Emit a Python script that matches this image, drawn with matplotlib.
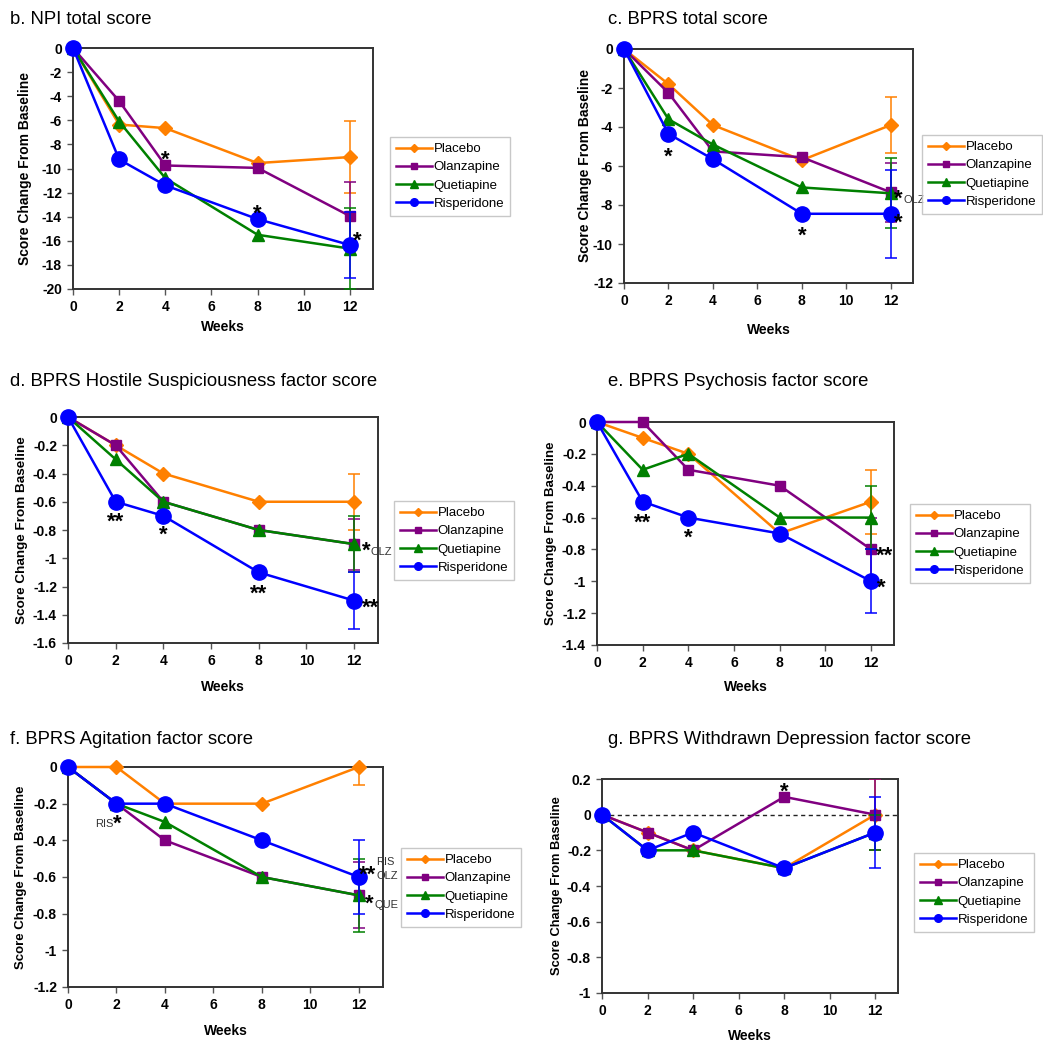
import numpy as np
import matplotlib
matplotlib.use("Agg")
import matplotlib.pyplot as plt
from matplotlib.lines import Line2D

plt.rcParams['font.family'] = ['Liberation Sans', 'DejaVu Sans']
plt.rcParams['axes.unicode_minus'] = False

W, H = 1043, 1050

weeks = [0, 2, 4, 8, 12]
drugs = ['Placebo', 'Olanzapine', 'Quetiapine', 'Risperidone']
colors = ['#FF8000', '#800080', '#008000', '#0000FF']
markers = ['D', 's', '^', 'o']
msizes = [7.5, 7.5, 8.5, 11]
legend_ms = [4.5, 5, 5.5, 5.5]

# b. NPI total score
npi_pla = [0, -6.35, -6.65, -9.55, -9.05]
npi_olz = [0, -4.4, -9.75, -9.95, -13.95]
npi_que = [0, -6.1, -10.8, -15.5, -16.65]
npi_ris = [0, -9.25, -11.4, -14.2, -16.35]
npi_err = [3.0, 2.85, 3.35, 2.7]

# c. BPRS total score
bprs_pla = [0, -1.8, -3.9, -5.7, -3.9]
bprs_olz = [0, -2.25, -5.25, -5.55, -7.35]
bprs_que = [0, -3.6, -4.9, -7.1, -7.4]
bprs_ris = [0, -4.35, -5.65, -8.45, -8.45]
bprs_err = [1.45, 1.5, 1.8, 2.25]

# d. hostile suspiciousness
hos_pla = [0, -0.2, -0.4, -0.6, -0.6]
hos_olz = [0, -0.2, -0.6, -0.8, -0.9]
hos_que = [0, -0.3, -0.6, -0.8, -0.9]
hos_ris = [0, -0.6, -0.7, -1.1, -1.3]
hos_err = [0.2, 0.18, 0.2, 0.2]

# e. psychosis
psy_pla = [0, -0.1, -0.2, -0.7, -0.5]
psy_olz = [0, 0, -0.3, -0.4, -0.8]
psy_que = [0, -0.3, -0.2, -0.6, -0.6]
psy_ris = [0, -0.5, -0.6, -0.7, -1.0]
psy_err = [0.2, 0.2, 0.2, 0.2]

# f. agitation
agi_pla = [0, 0, -0.2, -0.2, 0]
agi_olz = [0, -0.2, -0.4, -0.6, -0.7]
agi_que = [0, -0.2, -0.3, -0.6, -0.7]
agi_ris = [0, -0.2, -0.2, -0.4, -0.6]
agi_err = [0.1, 0.18, 0.2, 0.2]

# g. withdrawn depression
dep_pla = [0, -0.1, -0.2, -0.3, 0]
dep_olz = [0, -0.1, -0.2, 0.1, 0]
dep_que = [0, -0.2, -0.2, -0.3, -0.1]
dep_ris = [0, -0.2, -0.1, -0.3, -0.1]
dep_err = [0.2, 0.2, 0.1, 0.2]

titles = ['b. NPI total score', 'c. BPRS total score',
          'd. BPRS Hostile Suspiciousness factor score', 'e. BPRS Psychosis factor score',
          'f. BPRS Agitation factor score', 'g. BPRS Withdrawn Depression factor score']

# annotations: (series index, point index, text, dx px, dy px, size)
ann_b = [(1, 2, '*', 0, 12, 16), (3, 3, '*', 0, 12, 16), (3, 4, '*', 7, 11, 16)]
ann_c = [(3, 1, '*', 0, -16, 16), (3, 3, '*', 0, -15, 16), (1, 4, '*', 8, 0, 16),
         (1, 4, 'OLZ', 23, -8, 8), (3, 4, '*', 8, -2, 16)]
ann_d = [(3, 1, '**', 0, -13, 16), (3, 2, '*', 0, -12, 16), (3, 3, '**', 0, -15, 16),
         (1, 4, '*', 12, 0, 16), (1, 4, 'OLZ', 27, -8, 8), (3, 4, '**', 16, 0, 16)]
ann_e = [(3, 1, '**', 0, -14, 16), (3, 2, '*', 0, -14, 16), (1, 4, '**', 13, 0, 16),
         (3, 4, '*', 10, 0, 16)]
ann_f = [(3, 1, '*', 1, -13, 16), (3, 1, 'RIS', -12, -20, 8), (3, 4, '**', 9, 9, 16),
         (3, 4, 'RIS', 27, 15, 8), (3, 4, 'OLZ', 28, 1, 8), (2, 4, '*', 11, -2, 16),
         (2, 4, 'QUE', 28, -10, 8)]
ann_g = [(1, 3, '*', 0, 12, 16)]

panels = [
    dict(series=[npi_pla, npi_olz, npi_que, npi_ris], err=npi_err, ylim=(-20, 0), step=2,
         rect=(73, 48, 373, 289), title=(10, 20), leg=(390, 137), ylx=25, xly=327, yls=10, ann=ann_b),
    dict(series=[bprs_pla, bprs_olz, bprs_que, bprs_ris], err=bprs_err, ylim=(-12, 0), step=2,
         rect=(624, 49, 913, 283), title=(608, 20), leg=(922, 135), ylx=585, xly=330, yls=10, ann=ann_c),
    dict(series=[hos_pla, hos_olz, hos_que, hos_ris], err=hos_err, ylim=(-1.6, 0), step=0.2,
         rect=(68, 417, 378, 643), title=(10, 382), leg=(394, 501), ylx=22, xly=687, yls=9.7, ann=ann_d),
    dict(series=[psy_pla, psy_olz, psy_que, psy_ris], err=psy_err, ylim=(-1.4, 0), step=0.2,
         rect=(597, 422, 894, 645), title=(608, 382), leg=(910, 504), ylx=551, xly=687, yls=9.5, ann=ann_e),
    dict(series=[agi_pla, agi_olz, agi_que, agi_ris], err=agi_err, ylim=(-1.2, 0), step=0.2,
         rect=(68, 767, 383, 987), title=(10, 740), leg=(401, 848), ylx=21, xly=1031, yls=9.5, ann=ann_f),
    dict(series=[dep_pla, dep_olz, dep_que, dep_ris], err=dep_err, ylim=(-1, 0.2), step=0.2,
         rect=(602, 779, 898, 993), title=(608, 740), leg=(914, 853), ylx=557, xly=1036, yls=9.3, ann=ann_g,
         zero=True),
]

fig = plt.figure(figsize=(W / 100, H / 100), dpi=100)

for i, p in enumerate(panels):
    l, t, r, b = p['rect']
    ax = fig.add_axes([l / W, 1 - b / H, (r - l) / W, (b - t) / H])
    ax.set_xlim(0, 13)
    ax.set_ylim(*p['ylim'])
    if p.get('zero'):
        ax.axhline(0, color='#222222', lw=1, ls=(0, (3, 2.5)), zorder=1)
    for k in range(4):
        ys = p['series'][k]
        ax.plot(weeks, ys, color=colors[k], marker=markers[k], ms=msizes[k],
                mec=colors[k], lw=1.8, clip_on=False, zorder=3 + k)
        ax.errorbar(weeks[-1], ys[-1], yerr=p['err'][k], fmt='none', ecolor=colors[k],
                    elinewidth=1.1, capsize=4, capthick=1.1, zorder=3 + k)
    yt = np.arange(p['ylim'][0], p['ylim'][1] + p['step'] / 2, p['step'])
    ax.set_yticks(yt)
    ax.set_yticklabels(['%g' % (round(v, 2) + 0.0) for v in yt])
    ax.set_xticks(range(0, 13, 2))
    ax.tick_params(direction='out', length=4, width=1, labelsize=10, color='#555555', pad=4)
    for lab in ax.get_xticklabels() + ax.get_yticklabels():
        lab.set_fontweight('bold')
    for s in ax.spines.values():
        s.set_color('#333333')
        s.set_linewidth(1.4)
    ax.set_ylabel('Score Change From Baseline', fontsize=p['yls'], fontweight='bold')
    ax.yaxis.set_label_coords((p['ylx'] - l) / (r - l), 0.5)
    ax.set_xlabel('Weeks', fontsize=10, fontweight='bold')
    ax.xaxis.set_label_coords(0.5, -(p['xly'] - b) / (b - t))
    ax.xaxis.label.set_va('center')
    ax.yaxis.label.set_va('center')

    for (k, j, txt, dx, dy, fs) in p['ann']:
        if '*' in txt:
            dy = dy - 0.32 * fs * 100 / 72
            col, fw = 'black', 'bold'
        else:
            col, fw = '#333333', 'normal'
        ax.annotate(txt, xy=(weeks[j], p['series'][k][j]), xytext=(dx * 0.72, dy * 0.72),
                    textcoords='offset points', ha='center', va='center', fontsize=fs,
                    color=col, fontweight=fw, zorder=10, annotation_clip=False)

    tx, ty = p['title']
    fig.text(tx / W, 1 - ty / H, titles[i], fontsize=13.3, ha='left', va='center')

    handles = [Line2D([], [], color=colors[k], marker=markers[k], ms=legend_ms[k], lw=1.8)
               for k in range(4)]
    lx, ly = p['leg']
    leg = fig.legend(handles, drugs, loc='upper left', bbox_to_anchor=(lx / W, 1 - ly / H),
                     fontsize=9.5, frameon=True, fancybox=False, borderpad=0.45,
                     handlelength=2.7, handletextpad=0.15, labelspacing=0.45, borderaxespad=0)
    leg.get_frame().set_edgecolor('#BBBBBB')
    leg.get_frame().set_linewidth(1)

fig.savefig('out.png', dpi=100)
